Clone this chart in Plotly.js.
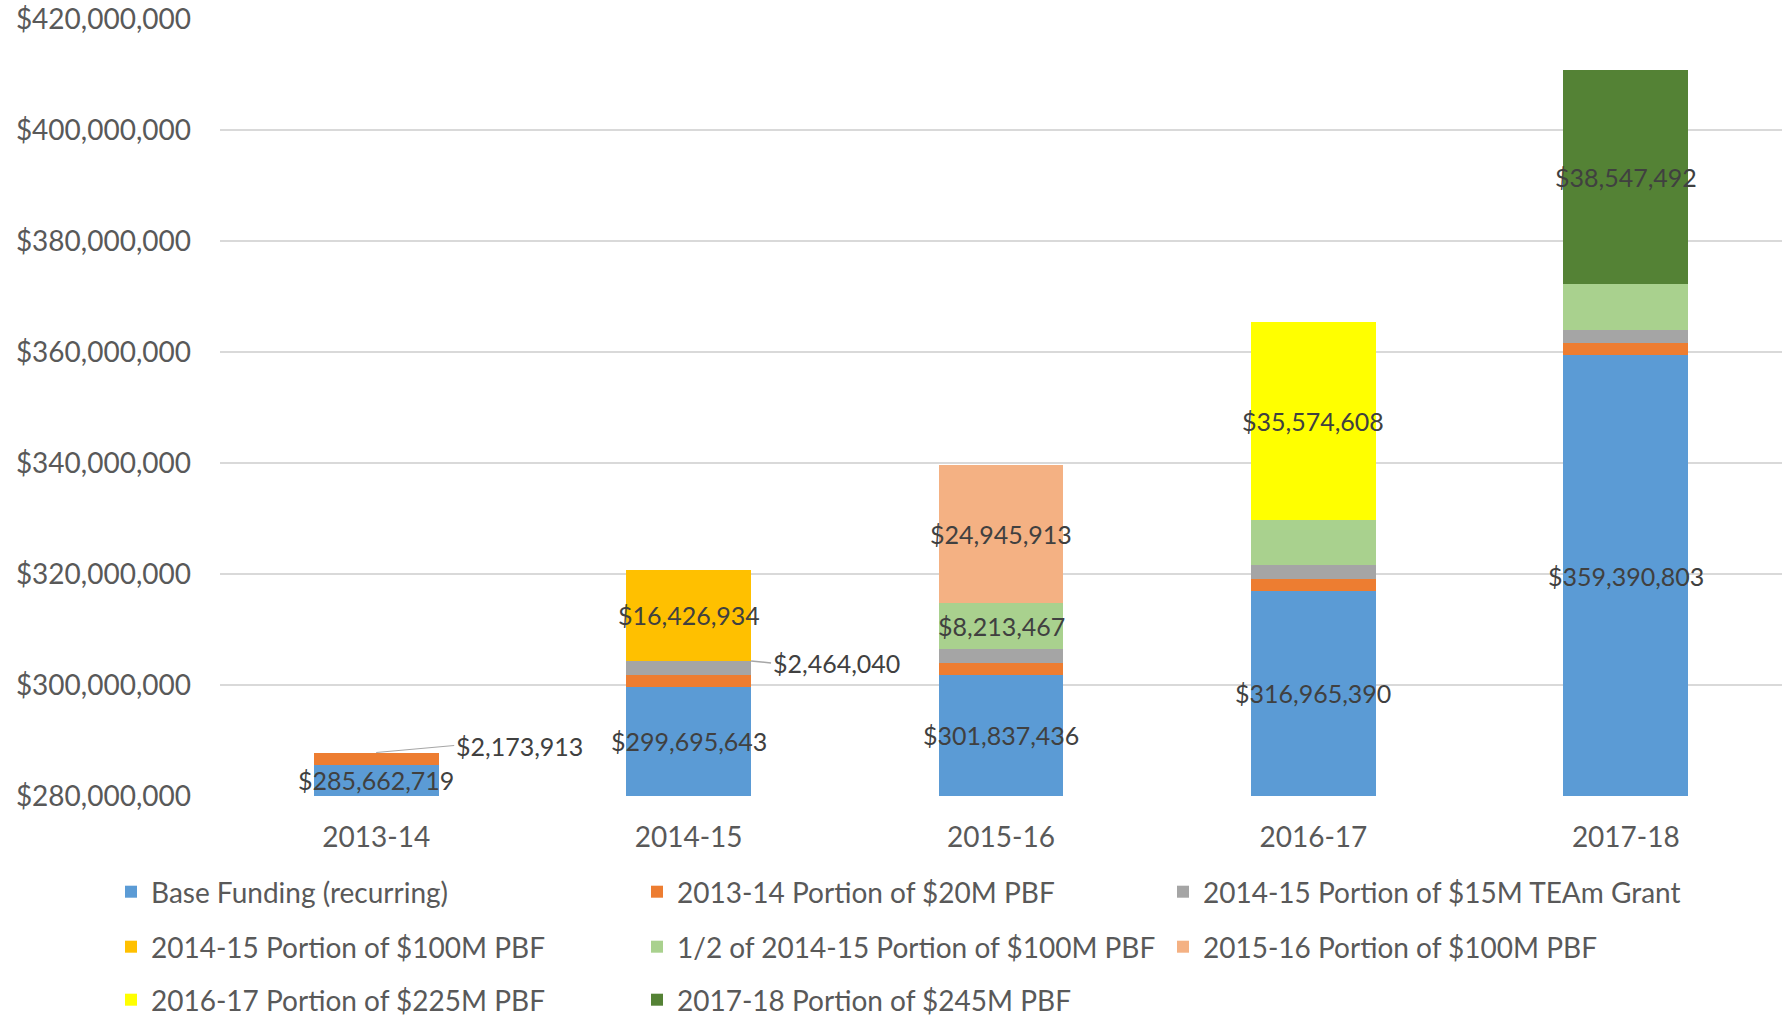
<!DOCTYPE html>
<html>
<head>
<meta charset="utf-8">
<script src="https://cdn.plot.ly/plotly-3.0.1.min.js"></script>
<style>html,body{margin:0;padding:0;background:#fff;}#chart{width:1785px;height:1017px;}</style>
</head>
<body>
<div id="chart"></div>
<script>
// ---- data ----
const years = ['2013-14', '2014-15', '2015-16', '2016-17', '2017-18'];
const baseFunding   = [285662719, 299695643, 301837436, 316965390, 359390803];
const pbf20M1314    = [2173913, 2173913, 2173913, 2173913, 2173913];
const teamGrant1415 = [null, 2464040, 2464040, 2464040, 2464040];
const pbf100M1415   = [null, 16426934, null, null, null];
const halfPbf1415   = [null, null, 8213467, 8213467, 8213467];
const pbf100M1516   = [null, null, 24945913, null, null];
const pbf225M1617   = [null, null, null, 35574608, null];
const pbf245M1718   = [null, null, null, null, 38547492];

const seriesNames = [
  'Base Funding (recurring)',
  '2013-14 Portion of $20M PBF',
  '2014-15 Portion of $15M TEAm Grant',
  '2014-15 Portion of $100M PBF',
  '1/2 of 2014-15 Portion of $100M PBF',
  '2015-16 Portion of $100M PBF',
  '2016-17 Portion of $225M PBF',
  '2017-18 Portion of $245M PBF'
];
const seriesValues = [baseFunding, pbf20M1314, teamGrant1415, pbf100M1415, halfPbf1415, pbf100M1516, pbf225M1617, pbf245M1718];
const seriesColors = ['#5B9BD5', '#ED7D31', '#A5A5A5', '#FFC000', '#A9D18E', '#F4B183', '#FFFF00', '#548235'];
// which segments carry a centred data label: [series, year index]
const centredLabels = [[0,0],[0,1],[0,2],[0,3],[0,4],[3,1],[4,2],[5,2],[6,3],[7,4]];
// callout labels with leader line: [series, year index]
const calloutLabels = [[1,0],[2,1]];
const yRange = [280000000, 420000000];

const fmt = v => '$' + v.toLocaleString('en-US');
const legendIds = seriesNames.map((_, i) => i === 0 ? 'legend' : 'legend' + (i + 1));

const traces = seriesNames.map((name, i) => ({
  type: 'bar',
  name: name,
  x: years,
  y: seriesValues[i],
  width: 0.4,
  marker: {color: seriesColors[i], line: {width: 0}},
  legend: legendIds[i],
  hoverinfo: 'name+y'
}));

function cumBelow(s, j) {
  let t = 0;
  for (let k = 0; k < s; k++) t += (seriesValues[k][j] || 0);
  return t;
}

const labelFont = {family: 'Lato, sans-serif', size: 25, color: '#404040'};
const annotations = centredLabels.map(([s, j]) => {
  const lo = Math.max(cumBelow(s, j), yRange[0]);
  const hi = cumBelow(s, j) + seriesValues[s][j];
  return {
    x: years[j], y: (lo + hi) / 2,
    xref: 'x', yref: 'y', text: fmt(seriesValues[s][j]),
    showarrow: false, font: labelFont, xanchor: 'center', yanchor: 'middle'
  };
});
// 2013-14 orange callout (tip at top centre of segment)
{
  const [s, j] = calloutLabels[0];
  annotations.push({
    x: j, y: cumBelow(s, j) + seriesValues[s][j], xref: 'x', yref: 'y',
    text: fmt(seriesValues[s][j]), font: labelFont,
    showarrow: true, arrowhead: 0, arrowwidth: 1, arrowcolor: '#A6A6A6',
    ax: 78, ay: -7, xanchor: 'left', yanchor: 'middle', standoff: 0
  });
}
// 2014-15 gray callout (tip at right edge of bar)
{
  const [s, j] = calloutLabels[1];
  annotations.push({
    x: j + 0.2, y: cumBelow(s, j) + seriesValues[s][j], xref: 'x', yref: 'y',
    text: fmt(seriesValues[s][j]), font: labelFont,
    showarrow: true, arrowhead: 0, arrowwidth: 1.5, arrowcolor: '#A6A6A6',
    ax: 20, ay: 2, xanchor: 'left', yanchor: 'middle', standoff: 0
  });
}

// legend grid: 3 columns x 3 rows (row-major, like the reference)
const legendColX = [111, 637, 1163];
const legendRowY = [892, 947, 1000];

const layout = {
  width: 1785, height: 1017,
  margin: {l: 220, r: 3, t: 19, b: 221},
  paper_bgcolor: '#ffffff', plot_bgcolor: '#ffffff',
  barmode: 'stack',
  font: {family: 'Lato, sans-serif', color: '#595959'},
  showlegend: true,
  xaxis: {
    type: 'category', categoryorder: 'array', categoryarray: years,
    tickfont: {family: 'Lato, sans-serif', size: 28, color: '#595959'},
    showgrid: false, zeroline: false, showline: false, ticks: '',
    ticklabelstandoff: 22
  },
  yaxis: {
    range: yRange, dtick: 20000000, tick0: 0,
    tickformat: '$,.0f',
    tickfont: {family: 'Lato, sans-serif', size: 28, color: '#595959'},
    showgrid: true, gridcolor: '#D9D9D9', gridwidth: 2,
    zeroline: false, showline: false, ticks: '', ticklabelstandoff: 28
  },
  annotations: annotations
};

legendIds.forEach((id, i) => {
  layout[id] = {
    orientation: 'h', xref: 'container', yref: 'container',
    xanchor: 'left', yanchor: 'middle',
    x: legendColX[i % 3] / 1785, y: 1 - legendRowY[Math.floor(i / 3)] / 1017,
    font: {family: 'Lato, sans-serif', size: 28, color: '#595959'},
    itemwidth: 30, bgcolor: 'rgba(0,0,0,0)', borderwidth: 0
  };
});

Plotly.newPlot('chart', traces, layout, {displayModeBar: false, staticPlot: true});
</script>
</body>
</html>
